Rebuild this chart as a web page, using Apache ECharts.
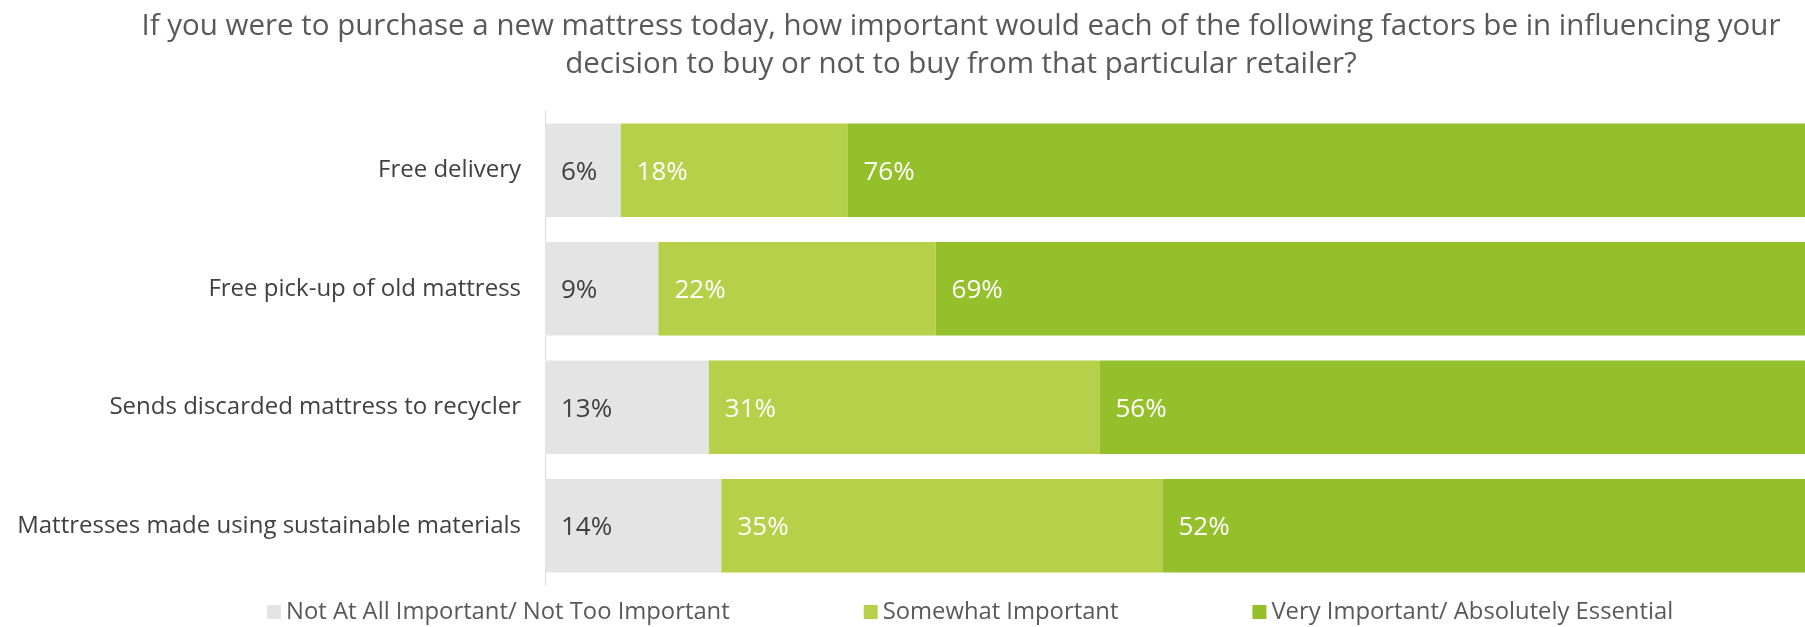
<!DOCTYPE html>
<html>
<head>
<meta charset="utf-8">
<script src="https://cdn.jsdelivr.net/npm/echarts@6/dist/echarts.min.js"></script>
<style>
html,body{margin:0;padding:0;background:#ffffff;}
#chart{width:1805px;height:627px;}
</style>
</head>
<body>
<div id="chart"></div>
<script>
const titleText = "If you were to purchase a new mattress today, how important would each of the following factors be in influencing your\ndecision to buy or not to buy from that particular retailer?";
const categories = ["Free delivery", "Free pick-up of old mattress", "Sends discarded mattress to recycler", "Mattresses made using sustainable materials"];
const seriesNames = ["Not At All Important/ Not Too Important", "Somewhat Important", "Very Important/ Absolutely Essential"];
const notImportant = [6, 9, 13, 14];
const somewhat = [18, 22, 31, 35];
const veryImportant = [76, 69, 56, 52];
const colors = ["#e4e4e4", "#b6d04a", "#95c02b"];
const labelColors = ["#404040", "#ffffff", "#ffffff"];

const FONT = "'Open Sans', 'Noto Sans', sans-serif";
const chart = echarts.init(document.getElementById('chart'), null, {renderer: 'canvas'});
const dataSets = [notImportant, somewhat, veryImportant];
const series = dataSets.map((d, i) => ({
  name: seriesNames[i],
  type: 'bar',
  stack: 'total',
  data: d,
  barCategoryGap: '21%',
  itemStyle: {color: colors[i]},
  label: {
    show: true,
    position: 'insideLeft',
    distance: 16,
    offset: [0, 2],
    formatter: '{c}%',
    color: labelColors[i],
    fontFamily: FONT,
    fontSize: 26
  },
  emphasis: {disabled: true}
}));

chart.setOption({
  animation: false,
  textStyle: {fontFamily: FONT},
  title: {
    text: titleText,
    left: 956,
    textAlign: 'center',
    top: 3,
    textStyle: {
      fontFamily: FONT,
      fontSize: 29.5,
      fontWeight: 'normal',
      color: '#595959',
      lineHeight: 38
    }
  },
  legend: {
    data: seriesNames,
    left: 262,
    top: 595,
    itemWidth: 14,
    itemHeight: 14,
    itemGap: 134,
    icon: 'rect',
    textStyle: {fontFamily: FONT, fontSize: 23.8, color: '#595959'}
  },
  grid: {left: 545, right: 0, top: 111, bottom: 42, containLabel: false},
  xAxis: {
    type: 'value',
    min: 0,
    max: 100,
    show: false
  },
  yAxis: {
    type: 'category',
    data: categories,
    inverse: true,
    axisLine: {show: true, lineStyle: {color: '#d9d9d9', width: 1}},
    axisTick: {show: false},
    axisLabel: {
      fontFamily: FONT,
      fontSize: 24,
      color: '#404040',
      margin: 24,
      padding: [4, 0, 0, 0]
    }
  },
  series: series
});
</script>
</body>
</html>
